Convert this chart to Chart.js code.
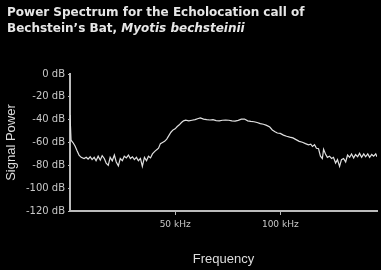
<!DOCTYPE html>
<html>
<head>
<meta charset="utf-8">
<script src="https://cdn.jsdelivr.net/npm/chart.js@4"></script>
<style>
  body { margin: 0; background: #000; }
  #wrap { position: relative; width: 381px; height: 270px; background: #000; }
  #titulo {
    position: absolute; left: 7px; top: 4px;
    font: bold 12px "DejaVu Sans", sans-serif; line-height: 16px;
    color: #e6e6e6;
  }
  canvas { position: absolute; left: 0; top: 0; }
</style>
</head>
<body>
<div id="wrap">
  <canvas id="grafico" width="381" height="270"></canvas>
  <div id="titulo">Power Spectrum for the Echolocation call of<br>Bechstein’s Bat, <i>Myotis bechsteinii</i></div>
</div>
<script>
// frequencia em kHz, potencia em dB
const frequencias = [
  0, 0.5, 1.4, 2.4, 3.3, 4.3, 5.3, 6.7, 7.7, 8.6, 9.6, 10.5, 11.5, 12.4, 13.4, 14.4,
  15.3, 16.3, 17.2, 18.2, 19.1, 20.1, 21.1, 22.0, 23.0, 23.9, 24.9, 25.8, 26.8, 27.8,
  28.7, 29.7, 30.6, 31.6, 32.5, 33.5, 34.4, 35.4, 36.4, 37.3, 38.3, 39.2, 40.2, 41.1,
  42.1, 43.0, 44.0, 45.0, 46.0, 47.0, 48.0, 49.0, 50.0, 51.0, 52.0, 53.0, 54.0, 55.0,
  56.5, 58.0, 59.5, 61.0, 62.0, 63.5, 65.0, 66.5, 68.0, 69.5, 71.0, 72.5, 74.0, 75.5,
  77.0, 78.5, 80.0, 81.5, 83.0, 84.5, 86.0, 87.5, 89.0, 90.5, 92.0, 93.5, 95.0, 96.2,
  97.5, 98.6, 100.0, 101.5, 103.0, 104.5, 106.0, 107.5, 109.0, 110.5, 112.0, 113.4,
  114.5, 115.3, 116.3, 117.2, 118.2, 119.1, 120.0, 120.6, 121.5, 122.4, 123.4, 124.4,
  125.3, 126.3, 127.2, 128.2, 129.1, 130.1, 131.1, 132.0, 133.0, 133.9, 134.9, 135.8,
  136.8, 137.7, 138.7, 139.7, 140.6, 141.6, 142.5, 143.5, 144.4, 145.4, 146.0
];
const potencias = [
  -36, -58, -60, -63, -67, -71, -73, -74, -73, -74.5, -72.5, -75, -73, -76, -72, -75.5,
  -71.5, -74, -78, -80, -73, -76, -71, -77, -80.5, -74, -76, -72, -73.5, -71,
  -74, -72.5, -75, -73, -76, -74, -81, -73, -76, -72, -73.5, -70, -68, -66.5,
  -65, -61, -60, -59, -57, -54, -51, -49, -48, -46, -44.5, -42.5, -41, -40.5,
  -41, -40.5, -40, -39, -38.5, -39.5, -40, -40.3, -40, -40.8, -41, -40.5, -40.3, -40.5,
  -41, -41.2, -40.6, -39.6, -39.5, -41, -41.5, -41.8, -42.5, -43.4, -44, -45, -46.5, -49,
  -50.5, -51.7, -52, -53.5, -54.5, -55.3, -56, -57.5, -59, -59.8, -61, -62,
  -61.5, -63.5, -62, -65, -65.5, -72, -74, -66, -70, -73, -72, -74,
  -73, -78, -75, -81, -75, -74, -77, -71, -73, -70, -73.5, -70.5,
  -72.5, -69.5, -73, -70, -72.5, -70, -73, -70.5, -72, -70, -72.5
];
const ticksX = [50, 100];
const ticksY = [0, -20, -40, -60, -80, -100, -120];

const pontos = frequencias.map((f, i) => ({ x: f, y: potencias[i] }));

const fonteTitulo = { family: 'Liberation Sans', size: 13 };

new Chart(document.getElementById('grafico'), {
  type: 'line',
  data: {
    datasets: [{
      data: pontos,
      borderColor: '#e0e0e0',
      borderWidth: 1.2,
      pointRadius: 0,
      tension: 0
    }]
  },
  options: {
    responsive: false,
    animation: false,
    layout: { padding: { top: 74, right: 4, left: 0, bottom: 0 } },
    plugins: { legend: { display: false }, tooltip: { enabled: false } },
    scales: {
      x: {
        type: 'linear', min: 0, max: 146,
        afterBuildTicks: s => { s.ticks = ticksX.map(v => ({ value: v })); },
        afterFit: s => { s.height = 59; },
        grid: { drawOnChartArea: false, color: '#bbb', tickLength: 4 },
        border: { color: '#bbb', width: 2 },
        ticks: { color: '#c8c8c8', font: { family: 'DejaVu Sans', size: 9 }, maxRotation: 0, padding: 4, callback: v => v + ' kHz' },
        title: { display: true, text: 'Frequency', color: '#ddd', font: fonteTitulo, padding: 3 }
      },
      y: {
        min: -120, max: 0,
        afterBuildTicks: s => { s.ticks = ticksY.map(v => ({ value: v })); },
        afterFit: s => { s.width = 70; },
        grid: { drawOnChartArea: false, color: '#bbb', tickLength: 2 },
        border: { color: '#bbb', width: 2 },
        ticks: { color: '#c8c8c8', font: { family: 'DejaVu Sans', size: 10 }, padding: 3, callback: v => v + ' dB' },
        title: { display: true, text: 'Signal Power', color: '#ddd', font: fonteTitulo, padding: 4 }
      }
    }
  }
});
</script>
</body>
</html>
